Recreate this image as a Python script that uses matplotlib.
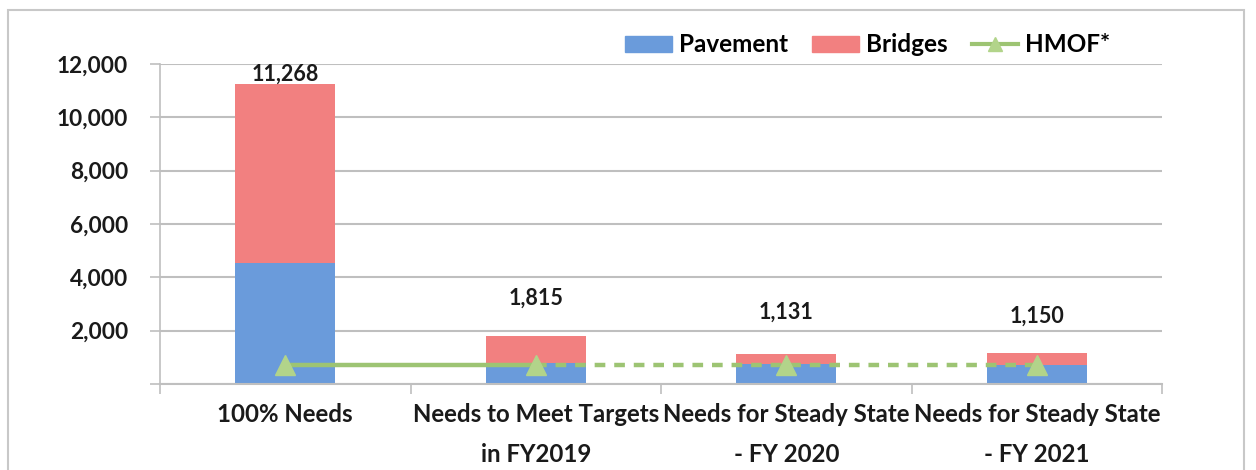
import matplotlib
matplotlib.use("Agg")
import matplotlib.pyplot as plt
from matplotlib.patches import Rectangle
from matplotlib.lines import Line2D
import numpy as np

categories = ["100% Needs", "Needs to Meet Targets\nin FY2019",
              "Needs for Steady State\n- FY 2020", "Needs for Steady State\n- FY 2021"]
pavement = [4540, 790, 760, 720]
totals = [11268, 1815, 1131, 1150]
bridges = [t - p for t, p in zip(totals, pavement)]
hmof = [700, 700, 700, 700]
total_labels = ["11,268", "1,815", "1,131", "1,150"]
yticks = [0, 2000, 4000, 6000, 8000, 10000, 12000]
ytick_labels = ["", "2,000", "4,000", "6,000", "8,000", "10,000", "12,000"]

plt.rcParams['font.family'] = ['Lato', 'DejaVu Sans']
plt.rcParams['font.weight'] = 'bold'

BLUE = "#6A9BDB"
RED = "#F28080"
GREEN = "#9DC473"
MARK = "#B2D48A"
GRID = "#BFBFBF"
TXT = "#1A1A1A"

fig = plt.figure(figsize=(12.56, 4.70), dpi=100)
ax = fig.add_axes([160/1256, 1-384/470, (1162-160)/1256, (384-64)/470])

# outer chart border
fig.patches.append(Rectangle((8/1256, -0.1), (1244-8)/1256, 1.1 - 10/470,
                             transform=fig.transFigure, fill=False,
                             edgecolor="#C8C8C8", linewidth=1.5))

x = np.arange(len(categories))
ax.bar(x, pavement, width=0.4, color=BLUE, zorder=2, label="Pavement")
ax.bar(x, bridges, width=0.4, bottom=pavement, color=RED, zorder=2, label="Bridges")

ax.plot(x[:2], hmof[:2], color=GREEN, lw=3.2, zorder=3)
ax.plot(x[1:], hmof[1:], color=GREEN, lw=3.2, ls=(0, (2.4, 2.0)), zorder=3)
ax.plot(x, hmof, ls="none", marker="^", markersize=14, color=MARK, zorder=4)

offsets = [7, 27, 30, 27]
for xi, t, lab, off in zip(x, totals, total_labels, offsets):
    ax.annotate(lab, (xi, t), xytext=(0, off), textcoords="offset points",
                ha="center", va="center", fontsize=15.5, color=TXT)

ax.set_xlim(-0.5, 3.5)
ax.set_ylim(0, 12000)
ax.set_yticks(yticks)
ax.set_yticklabels(ytick_labels, fontsize=16.3, color=TXT)
ax.yaxis.grid(True, color=GRID, lw=1.5, zorder=0)
ax.set_axisbelow(True)

ax.set_xticks(x)
ax.set_xticklabels(categories, fontsize=17.3, color=TXT, linespacing=1.85)
ax.tick_params(axis="x", length=0, pad=14)
ax.set_xticks(np.arange(-0.5, 4.0, 1.0), minor=True)
ax.tick_params(axis="x", which="minor", length=7, color=GRID, width=1.2)
ax.tick_params(axis="y", length=7, color=GRID, width=1.2, pad=16)

for s in ["top", "right"]:
    ax.spines[s].set_visible(False)
ax.spines["left"].set_color(GRID)
ax.spines["left"].set_linewidth(1.2)
ax.spines["bottom"].set_color(GRID)
ax.spines["bottom"].set_linewidth(1.5)

handles = [Rectangle((0, 0), 1, 1, color=BLUE), Rectangle((0, 0), 1, 1, color=RED),
           Line2D([], [], color=GREEN, lw=3, marker="^", markersize=10,
                  markerfacecolor=MARK, markeredgecolor=MARK)]
leg = fig.legend(handles, ["Pavement", "Bridges", "HMOF*"], loc="center",
                 bbox_to_anchor=(868/1256, 1-45/470), ncol=3, frameon=False,
                 fontsize=17.5, handlelength=1.9, handleheight=0.65,
                 columnspacing=1.0, handletextpad=0.3)

fig.savefig("out.png", dpi=100)
